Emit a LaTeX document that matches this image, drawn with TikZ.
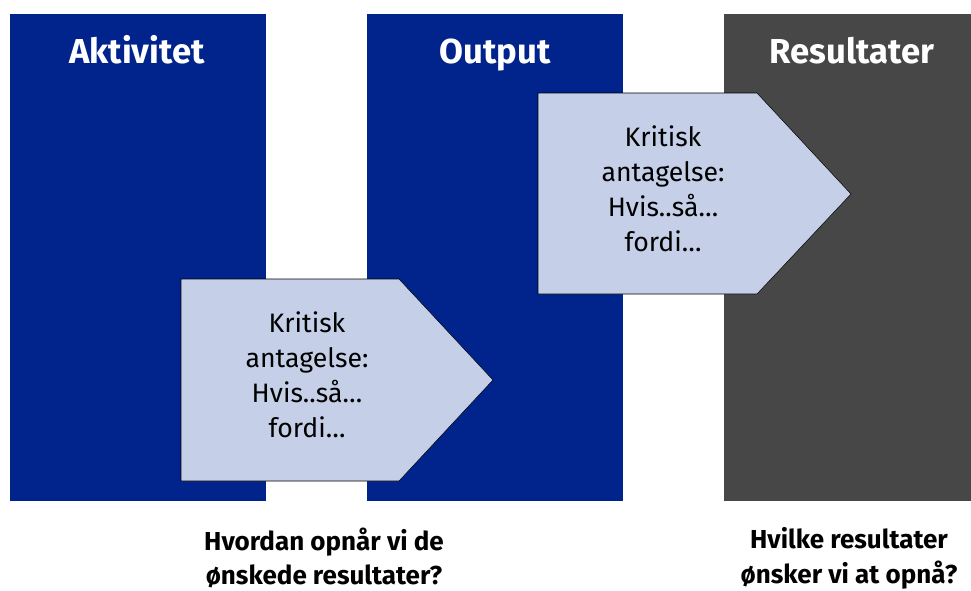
\documentclass[tikz,border=0pt]{standalone}
\usepackage{fontspec}
\setmainfont{Fira Sans}
\usetikzlibrary{calc}
\definecolor{colblue}{RGB}{0,35,140}
\definecolor{colgrey}{RGB}{71,71,71}
\definecolor{arrowfill}{RGB}{197,208,232}
\tikzset{
  colhead/.style={text=white,anchor=base,font=\fontsize{26}{30}\selectfont\bfseries},
  arrowtext/.style={align=center,font=\fontsize{20}{26.25}\selectfont},
  question/.style={align=center,inner sep=0pt,font=\fontsize{19.5}{26}\selectfont\bfseries}
}

\begin{document}
\begin{tikzpicture}[x=0.75pt,y=-0.75pt]
\useasboundingbox (0,0) rectangle (971,590);

\coordinate (A) at (10,14);
\coordinate (B) at (367,14);
\coordinate (C) at (724,14);

\fill[colblue] (A) rectangle +(256,487);
\fill[colblue] (B) rectangle +(256,487);
\fill[colgrey] (C) rectangle +(247,487);

\node[colhead] (aktivitet) at (137,63) {Aktivitet};
\node[colhead] (output) at (495,63) {Output};
\node[colhead] (resultater) at (852,63) {Resultater};

\draw[black,fill=arrowfill] (181,279) -- (399,279) -- (493,380) -- (399,481) -- (181,481) -- cycle;
\node[arrowtext] (ant1) at (307,375) {Kritisk\\antagelse:\\Hvis..så…\\fordi…};

\draw[black,fill=arrowfill] (538,93) -- (757,93) -- (851,194) -- (757,294) -- (538,294) -- cycle;
\node[arrowtext] (ant2) at (663,189) {Kritisk\\antagelse:\\Hvis..så…\\fordi…};

\node[question] (hvordan) at (324,558) {Hvordan opnår vi de\\ønskede resultater?};
\node[question] (hvilke) at (849,558) {Hvilke resultater\\ønsker vi at opnå?};

\end{tikzpicture}
\end{document}
